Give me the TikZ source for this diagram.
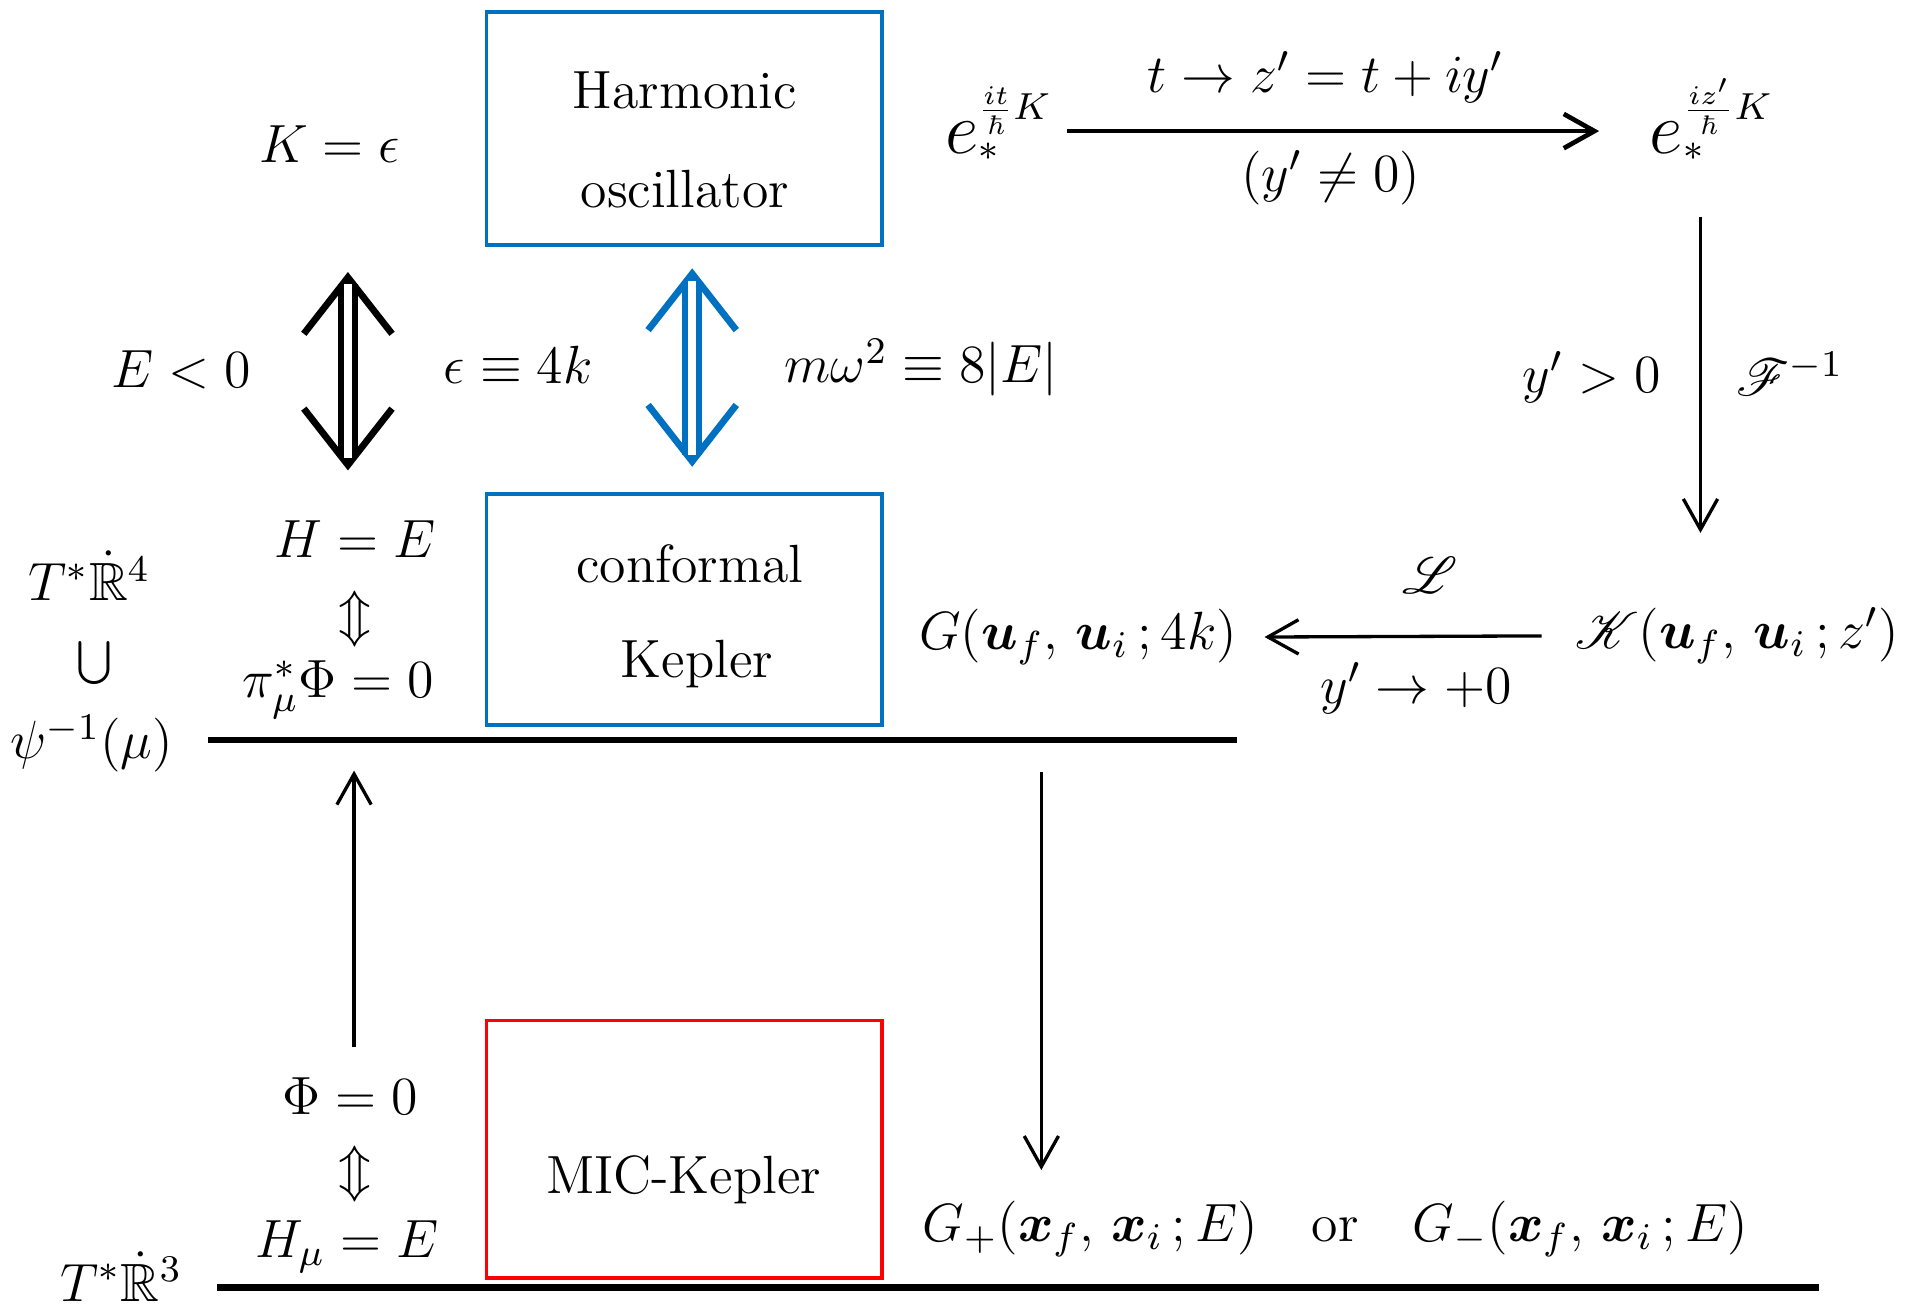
\RequirePackage{fix-cm}
\documentclass[tikz,border=0pt]{standalone}
\usepackage{graphicx}
\usepackage{amsmath,amssymb,mathrsfs,bm}
\usetikzlibrary{arrows.meta}
\definecolor{CB}{RGB}{0,112,192}
\definecolor{CR}{RGB}{255,0,0}
\newcommand{\dfont}{\fontsize{12.5}{15}\selectfont}
\newcommand{\bige}{\text{\fontsize{17}{17}\selectfont$e$}}

\begin{document}
\begin{tikzpicture}[x=0.1mm, y=-0.1mm,
  every node/.style={font=\dfont},
  sysbox/.style={draw=#1, line width=0.3mm, minimum width=32.3mm},
  boxtxt/.style={align=center, font=\fontsize{12.5}{23}\selectfont},
  arr/.style={-{Straight Barb[length=2.5mm, width=2.8mm]}, line width=0.27mm},
  tarr/.style={arr, line width=0.38mm},
  dtip/.style={draw=#1, line width=0.55mm,
    {Straight Barb[length=4.6mm, width=7.2mm]}-{Straight Barb[length=4.6mm, width=7.2mm]}},
  dshaft/.style={draw=#1, line width=0.5mm, double=white, double distance=0.65mm,
    shorten <=1mm, shorten >=1mm},
  level/.style={line width=0.55mm}
]
\useasboundingbox (0,0) rectangle (1568,1064);

% harmonic oscillator row
\node (Keps) at (269,118) {$K = \epsilon$};
\node[sysbox=CB, minimum height=19mm] (osc) at (558.5,105) {};
\node[boxtxt] (osctxt) at (559,114) {Harmonic\\oscillator};
\node[anchor=base] (eit) at (815,125) {$\bige_*^{\frac{it}{\hbar}K}$};
\node[anchor=base] (eiz) at (1397,125) {$\bige_*^{\frac{iz'}{\hbar}K}$};
\node (cont) at (1082,63) {$t \to z' = t + iy'$};
\node (yne) at (1086,145) {$(y' \neq 0)$};
\draw[tarr, shorten >=2.9mm] ([yshift=1.8mm]eit.base east) -- ([yshift=1.8mm]eiz.base west);

% equivalences
\coordinate (ka) at (284,222);
\coordinate (kb) at (284,384);
\draw[dtip=black] (ka) -- (kb);
\draw[dshaft=black] (ka) -- (kb);
\coordinate (ba) at (565,219);
\coordinate (bb) at (565,381);
\draw[dtip=CB] (ba) -- (bb);
\draw[dshaft=CB] (ba) -- (bb);
\node (Eneg) at (148,302) {$E < 0$};
\node (eps4k) at (423,298) {$\epsilon \equiv 4k$};
\node (mw) at (752,300) {$m\omega^2 \equiv 8|E|$};

% continuation
\coordinate (ra) at (1388,177);
\coordinate (rb) at (1388,435);
\draw[arr] (ra) -- (rb);
\node (ypos) at (1299,308) {$y' > 0$};
\node (Finv) at (1461,305) {$\mathscr{F}^{-1}$};

% conformal Kepler row
\node[sysbox=CB, minimum height=18.9mm] (ckep) at (558.5,497.5) {};
\node[boxtxt, font=\fontsize{12.5}{22}\selectfont] (ckeptxt) at (563,503) {conformal\\\hspace*{1.2mm}Kepler};
\node (TR4) at (73,470) {$T^*\dot{\mathbb{R}}^4$};
\node (cup) at (77,541) {\scalebox{0.8}{$\bigcup$}};
\node (psi) at (75,607) {$\psi^{-1}(\mu)$};
\node (HE) at (290,440) {$H = E$};
\node (iff1) at (290,505) {$\Updownarrow$};
\node (piphi) at (276,563) {$\pi_\mu^*\Phi = 0$};
\node (Gu) at (880,520) {$G(\bm{u}_f,\,\bm{u}_i\,;4k)$};
\node (Ku) at (1418,519) {$\mathscr{K}(\bm{u}_f,\,\bm{u}_i\,;z')$};
\node (Lap) at (1167,470) {$\mathscr{L}$};
\node (ylim) at (1156,562) {$y' \to +0$};
\draw[arr, shorten <=1.5mm, shorten >=1mm] (Ku.west) -- (Gu.east);
\draw[level] (170,604) -- (1010,604);

% reduction
\coordinate (ua) at (289,855);
\coordinate (ub) at (289,629);
\draw[arr] (ua) -- (ub);
\coordinate (da) at (850,630);
\coordinate (db) at (850,955);
\draw[arr] (da) -- (db);

% MIC-Kepler row
\node[sysbox=CR, minimum height=21mm] (mic) at (558.5,938) {};
\node (mictxt) at (558,963) {MIC-Kepler};
\node (phi) at (286,895) {$\Phi = 0$};
\node (iff2) at (290,958) {$\Updownarrow$};
\node (HmE) at (283,1018) {$H_\mu = E$};
\node (TR3) at (99,1042) {$T^*\dot{\mathbb{R}}^3$};
\node (Gx) at (1090,1003) {$G_+(\bm{x}_f,\,\bm{x}_i\,;E)\quad\text{or}\quad G_-(\bm{x}_f,\,\bm{x}_i\,;E)$};
\draw[level] (177,1051) -- (1485,1051);
\end{tikzpicture}
\end{document}
